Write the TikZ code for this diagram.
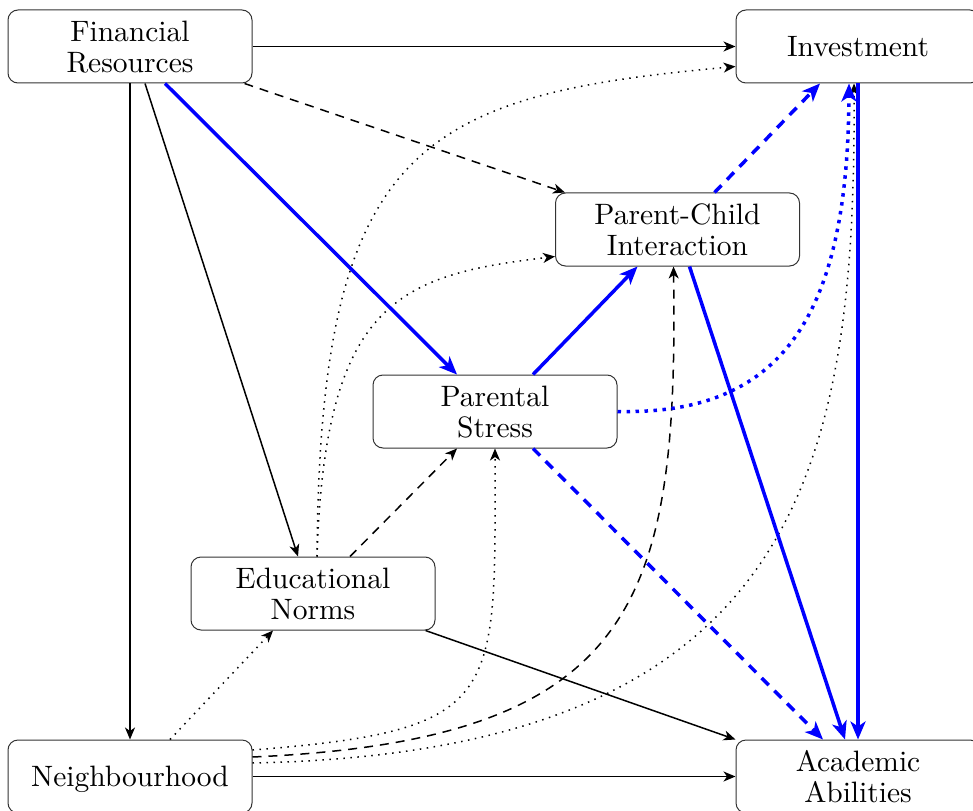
\documentclass[tikz,border=0pt]{standalone}
\usepackage{graphicx}
\usetikzlibrary{arrows.meta}
\newcommand\boxtext[1]{\raisebox{-4pt}[\height][\depth]{\scalebox{2.95}{\fontsize{10}{10.7}\selectfont\begin{tabular}{@{}c@{}}#1\end{tabular}}}}
\tikzset{
  box/.style={draw=black!80, line width=1pt, rounded corners=10pt, minimum width=244pt, minimum height=73pt, inner sep=0pt},
  blk/.style={line width=1.5pt, black, -{Stealth[length=12pt,width=10pt,inset=3.5pt]}},
  blu/.style={line width=3.5pt, blue, -{Stealth[length=18pt,width=15pt,inset=5pt]}},
  dashblk/.style={dash pattern=on 9pt off 7pt},
  dotblk/.style={dash pattern=on 1.5pt off 5.5pt},
  dashblu/.style={dash pattern=on 10pt off 8pt},
  dotblu/.style={dash pattern=on 3.5pt off 5.5pt},
}
\begin{document}
\begin{tikzpicture}[x=1pt,y=-1pt]
\useasboundingbox (0,0) rectangle (973,810);
\node[box] (fr)  at (130,46.5)  {\boxtext{Financial\\Resources}};
\node[box] (inv) at (858,46.5)  {\boxtext{Investment}};
\node[box] (pci) at (677.5,229.5) {\boxtext{Parent-Child\\Interaction}};
\node[box] (ps)  at (495,411.5) {\boxtext{Parental\\Stress}};
\node[box] (en)  at (313,593.5) {\boxtext{Educational\\Norms}};
\node[box] (nb)  at (130,776.5) {\boxtext{Neighbourhood}};
\node[box] (aa)  at (858,776.5) {\boxtext{Academic\\Abilities}};

% black solid
\draw[blk] (fr.east) -- (inv.west);
\draw[blk] (fr.south) -- (nb.north);
\draw[blk] ([xshift=15pt]fr.south) -- ([xshift=-15pt]en.north);
\draw[blk] ([xshift=-10pt]en.south east) -- (aa.north west);
\draw[blk] (nb.east) -- (aa.west);
% black dashed
\draw[blk,dashblk] ([xshift=-8pt]fr.south east) -- ([xshift=10pt]pci.north west);
\draw[blk,dashblk] ([xshift=37pt]en.north) -- ([xshift=-38pt]ps.south);
\draw[blk,dashblk] ([yshift=19.5pt]nb.east) .. controls (640,740) and (678,600) .. ([xshift=-4pt]pci.south);
% black dotted
\draw[blk,dotblk] ([xshift=40pt]nb.north) -- ([xshift=-40pt]en.south);
\draw[blk,dotblk] ([yshift=26.5pt]nb.east) .. controls (505,730) and (495,700) .. (ps.south);
\draw[blk,dotblk] ([yshift=13.5pt]nb.east) .. controls (800,752) and (856,470) .. ([xshift=-4pt]inv.south);
\draw[blk,dotblk] ([xshift=4pt]en.north) .. controls (320,145) and (420,95) .. ([yshift=-20pt]inv.west);
\draw[blk,dotblk] ([xshift=4pt]en.north) .. controls (325,300) and (400,275) .. ([yshift=-27pt]pci.west);
% blue
\draw[blu] ([xshift=35pt]fr.south) -- ([xshift=-38pt]ps.north);
\draw[blu] ([xshift=38pt]ps.north) -- ([xshift=-40pt]pci.south);
\draw[blu] ([xshift=12pt]pci.south) -- ([xshift=-13pt]aa.north);
\draw[blu] (inv.south) -- (aa.north);
\draw[blu,dashblu] ([xshift=37pt]pci.north) -- ([xshift=-38pt]inv.south);
\draw[blu,dashblu] ([xshift=38pt]ps.south) -- ([xshift=-35pt]aa.north);
\draw[blu,dotblu] (ps.east) .. controls (780,415) and (848,320) .. ([xshift=-9pt]inv.south);
\end{tikzpicture}
\end{document}
